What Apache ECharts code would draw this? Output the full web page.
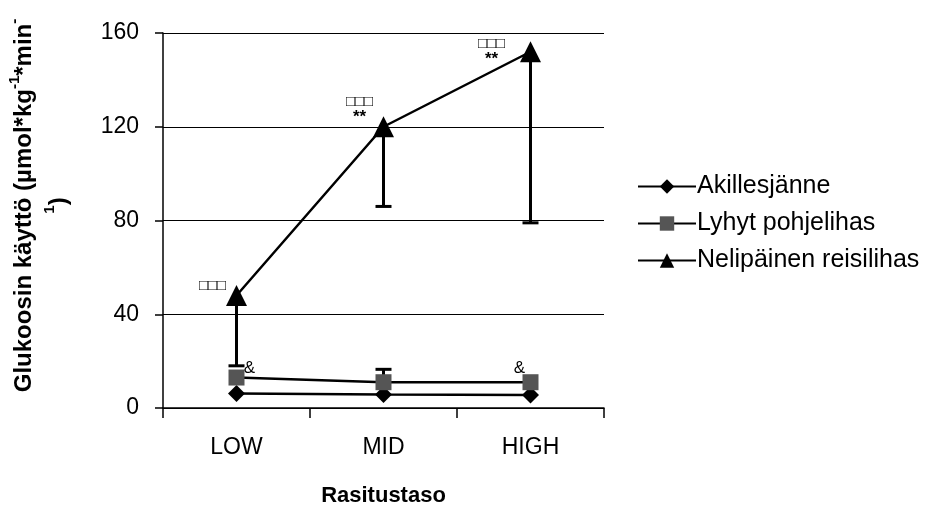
<!DOCTYPE html>
<html><head><meta charset="utf-8">
<script src="https://cdn.jsdelivr.net/npm/echarts@6/dist/echarts.min.js"></script>
<style>html,body{margin:0;padding:0;background:#fff}#c{width:934px;height:506px}</style>
</head><body><div id="c"></div>
<script>
const categories = ['LOW', 'MID', 'HIGH'];
const akilles = [6.2, 5.8, 5.5];
const lyhyt = [13, 11, 11];
const neli = [48, 120, 152];
// error bars: [categoryIndex, from, to]
const neliErr = [[0, 48, 18], [1, 120, 86], [2, 152, 79]];
const lyhytErr = [[1, 11, 16.5]];
const neliNotes = ['{q|□□□}', '{q|□□□}\n{s|**}', '{q|□□□}\n{s|**}'];
const lyhytNotes = ['&', '', '&'];
const yTicks = [0, 40, 80, 120, 160];

const FONT = '"Liberation Sans", Arial, sans-serif';
const chart = echarts.init(document.getElementById('c'));

function errItem(params, api) {
  const x = api.value(0);
  const p1 = api.coord([x, api.value(1)]);
  const p2 = api.coord([x, api.value(2)]);
  return {
    type: 'group',
    children: [
      {type: 'line', shape: {x1: p1[0], y1: p1[1], x2: p2[0], y2: p2[1]}, style: {stroke: '#000', lineWidth: 3}},
      {type: 'line', shape: {x1: p2[0] - 8, y1: p2[1], x2: p2[0] + 8, y2: p2[1]}, style: {stroke: '#000', lineWidth: 3}}
    ]
  };
}

const neliOffsets = [[-24, -10], [-24, -18], [-39, -1]];
const lyhytOffsets = [[13, -9], [0, 0], [-11, -14]];

chart.setOption({
  animation: false,
  textStyle: {fontFamily: FONT},
  grid: {left: 163, right: 330, top: 33, bottom: 98, outerBoundsMode: 'none', containLabel: false},
  legend: {
    orient: 'vertical', left: 632, top: 169, itemGap: 12, itemWidth: 58, itemHeight: 18,
    textStyle: {fontSize: 25, color: '#000', fontFamily: FONT, padding: [0, 0, 0, -4]},
    data: ['Akillesjänne', 'Lyhyt pohjelihas', 'Nelipäinen reisilihas']
  },
  xAxis: {
    type: 'category', data: categories, boundaryGap: true,
    name: 'Rasitustaso', nameLocation: 'middle', nameGap: 77,
    nameTextStyle: {fontSize: 22, fontWeight: 'bold', color: '#000', fontFamily: FONT},
    axisLine: {lineStyle: {color: '#000', width: 1.5}},
    axisTick: {show: true, length: 10, lineStyle: {color: '#000', width: 1.5}, alignWithLabel: false},
    axisLabel: {fontSize: 23, color: '#000', margin: 28, fontFamily: FONT}
  },
  yAxis: {
    type: 'value', min: 0, max: 160, interval: 40,
    name: '{a|Glukoosin käyttö (µmol*kg}{s|-1}{a|*min}{s|-}\n{s|1}{a|)}',
    nameLocation: 'middle', nameGap: 86, nameRotate: 90,
    nameTextStyle: {
      color: '#000', fontFamily: FONT, padding: [0, 0, 0, 30],
      rich: {
        a: {fontSize: 24, fontWeight: 'bold', color: '#000', fontFamily: FONT, lineHeight: 35},
        s: {fontSize: 15, fontWeight: 'bold', color: '#000', fontFamily: FONT, verticalAlign: 'top', lineHeight: 35, padding: [0, 0, 8, 0]}
      }
    },
    axisLine: {show: true, lineStyle: {color: '#000', width: 1.5}},
    axisTick: {show: true, length: 8, lineStyle: {color: '#000', width: 1.5}},
    axisLabel: {fontSize: 23, color: '#000', margin: 24, fontFamily: FONT,
      formatter: v => yTicks.indexOf(v) >= 0 ? String(v) : ''},
    splitLine: {show: true, lineStyle: {color: '#000', width: 1}}
  },
  series: [
    {type: 'custom', name: 'errN', renderItem: errItem, data: neliErr, z: 1, silent: true,
      encode: {x: 0, y: [1, 2]}},
    {type: 'custom', name: 'errL', renderItem: errItem, data: lyhytErr, z: 1, silent: true,
      encode: {x: 0, y: [1, 2]}},
    {type: 'line', name: 'Akillesjänne', data: akilles, symbol: 'diamond', symbolSize: 17,
      lineStyle: {color: '#000', width: 2.5}, itemStyle: {color: '#000'}, z: 3},
    {type: 'line', name: 'Lyhyt pohjelihas', symbol: 'rect', symbolSize: 16,
      data: lyhyt.map((v, i) => ({value: v, label: {show: !!lyhytNotes[i], formatter: lyhytNotes[i], position: 'inside', offset: lyhytOffsets[i], fontSize: 17, color: '#000', fontFamily: FONT}})),
      lineStyle: {color: '#000', width: 2.5}, itemStyle: {color: '#555'}, z: 3},
    {type: 'line', name: 'Nelipäinen reisilihas', symbol: 'triangle', symbolSize: 21,
      data: neli.map((v, i) => ({value: v, label: {show: true, formatter: neliNotes[i], position: 'inside', offset: neliOffsets[i], color: '#000', fontFamily: FONT,
        rich: {q: {fontSize: 15, lineHeight: 13, color: '#000'}, s: {fontSize: 17, fontWeight: 'bold', lineHeight: 13, color: '#000', padding: [4, 0, 0, 0]}}}})),
      lineStyle: {color: '#000', width: 2.5}, itemStyle: {color: '#000'}, z: 4}
  ]
});
</script></body></html>
